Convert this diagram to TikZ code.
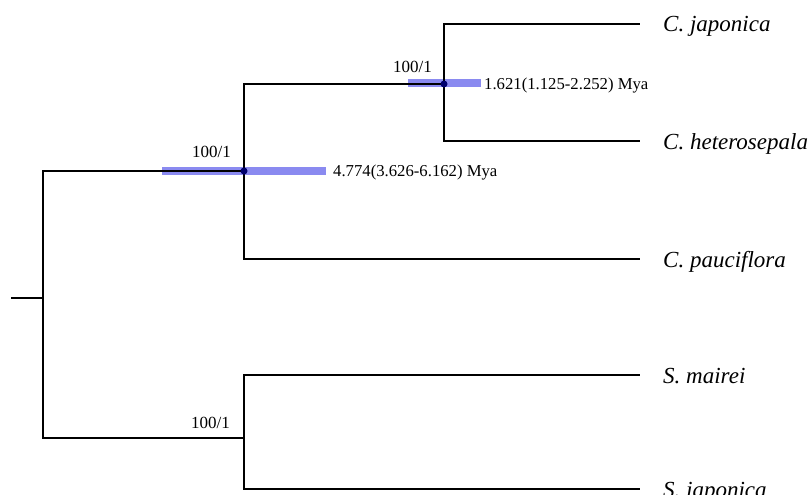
\documentclass[tikz,border=0pt]{standalone}
\usepackage{fontspec}
\setmainfont{Liberation Serif}
\definecolor{barblue}{RGB}{138,138,240}
\definecolor{dotnavy}{RGB}{0,0,110}
\begin{document}
\begin{tikzpicture}[x=1pt,y=-1pt,
  edge/.style={line width=1.8pt,black},
  hpd/.style={line width=8.5pt,barblue},
  nodedot/.style={circle,fill=dotnavy,inner sep=0pt,minimum size=7pt},
  taxon/.style={anchor=base west,inner sep=0pt,font=\fontsize{23}{25}\selectfont\itshape},
  support/.style={anchor=base east,inner sep=0pt,font=\fontsize{17}{19}\selectfont},
  agelab/.style={anchor=base west,inner sep=0pt,font=\fontsize{16.7}{18}\selectfont}]
\useasboundingbox (0,0) rectangle (811,495);
% internal nodes
\coordinate (stub) at (11,298);
\coordinate (root) at (43,298);
\coordinate (nA) at (244,171);
\coordinate (nB) at (444,84);
\coordinate (nS) at (244,438);
% leaf tips
\coordinate (tJ) at (640,24);
\coordinate (tH) at (640,141);
\coordinate (tP) at (640,259);
\coordinate (tM) at (640,375);
\coordinate (tSJ) at (640,489);
% HPD bars
\coordinate (bA1) at (162,171); \coordinate (bA2) at (326,171);
\coordinate (bB1) at (408,83);  \coordinate (bB2) at (481,83);
\draw[hpd] (bA1) -- (bA2);
\draw[hpd] (bB1) -- (bB2);
% branches
\draw[edge] (stub) -- (root);
\draw[edge] (root) |- (nA);
\draw[edge] (root) |- (nS);
\draw[edge] (nA) |- (nB);
\draw[edge] (nA) |- (tP);
\draw[edge] (nB) |- (tJ);
\draw[edge] (nB) |- (tH);
\draw[edge] (nS) |- (tM);
\draw[edge] (nS) |- (tSJ);
% dots
\node[nodedot] (dA) at (nA) {};
\node[nodedot] (dB) at (nB) {};
% taxa
\node[taxon] (lJ) at (663,32) {C. japonica};
\node[taxon] (lH) at (663,149) {C. heterosepala};
\node[taxon] (lP) at (663,267) {C. pauciflora};
\node[taxon] (lM) at (663,383) {S. mairei};
\node[taxon] (lSJ) at (663,497) {S. japonica};
% support values
\node[support] (sA) at (231,157) {100/1};
\node[support] (sB) at (432,72) {100/1};
\node[support] (sS) at (230,428) {100/1};
% ages
\node[agelab] (aA) at (333,176) {4.774(3.626-6.162) Mya};
\node[agelab] (aB) at (484,89) {1.621(1.125-2.252) Mya};
\end{tikzpicture}
\end{document}
